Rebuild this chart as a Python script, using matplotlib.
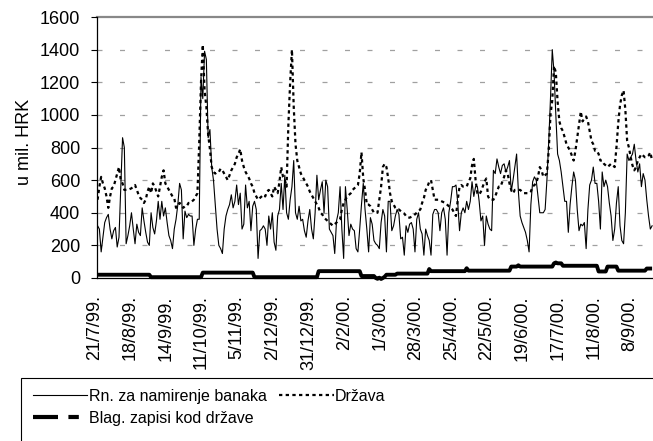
import matplotlib.pyplot as plt
from matplotlib.lines import Line2D
from matplotlib.patches import Rectangle
from matplotlib.transforms import ScaledTranslation

plt.rcParams['font.family'] = ['Liberation Sans', 'DejaVu Sans']

# daily values, u mil. HRK, 21/7/99. - 27/9/00.
rn_banaka = [
    320, 300, 160, 250, 340, 370, 390, 300, 240, 290,
    310, 190, 250, 560, 860, 800, 210, 260, 320, 400,
    300, 210, 330, 280, 260, 430, 350, 280, 220, 200,
    400, 310, 270, 350, 470, 360, 470, 380, 430, 340,
    260, 230, 180, 300, 360, 450, 580, 540, 240, 410,
    370, 390, 380, 380, 200, 300, 360, 360, 1230, 1100,
    1390, 1340, 860, 910, 680, 600, 450, 300, 200, 180,
    150, 300, 380, 420, 450, 510, 430, 470, 570, 450,
    520, 300, 330, 570, 430, 470, 290, 440, 470, 420,
    120, 290, 300, 320, 300, 200, 380, 300, 400, 220,
    170, 380, 420, 580, 420, 630, 400, 360, 480, 560,
    720, 400, 360, 440, 350, 360, 290, 250, 350, 420,
    300, 240, 400, 630, 480, 540, 590, 400, 600, 560,
    300, 280, 260, 150, 350, 400, 560, 300, 120, 560,
    420, 260, 330, 300, 290, 180, 160, 300, 450, 580,
    420, 300, 160, 370, 330, 230, 210, 200, 180, 340,
    420, 380, 160, 470, 470, 290, 320, 380, 420, 390,
    240, 250, 140, 320, 280, 330, 340, 300, 160, 360,
    400, 300, 270, 140, 300, 260, 230, 140, 390, 420,
    420, 400, 290, 400, 430, 360, 140, 400, 470, 560,
    560, 570, 460, 290, 400, 430, 400, 470, 420, 470,
    590, 500, 560, 560, 470, 350, 380, 200, 380, 330,
    300, 290, 660, 640, 730, 680, 640, 690, 700, 650,
    680, 720, 530, 600, 680, 760, 530, 380, 340, 310,
    280, 230, 160, 450, 590, 620, 600, 500, 400, 400,
    400, 420, 600, 830, 1100, 1400, 1260, 1000, 760, 720,
    650, 560, 470, 470, 280, 450, 560, 650, 600, 420,
    290, 330, 320, 340, 180, 420, 570, 600, 680, 580,
    580, 470, 300, 650, 560, 600, 560, 460, 380, 230,
    300, 460, 560, 320, 230, 210, 400, 760, 720, 740,
    760, 820, 720, 650, 700, 560, 640, 600, 480, 380,
    300, 320,
]

drzava = [
    480, 560, 620, 580, 550, 500, 430, 500, 550, 560,
    600, 640, 680, 600, 580, 540, 540, 540, 545, 550,
    560, 570, 540, 510, 490, 480, 460, 480, 530, 560,
    520, 580, 560, 530, 500, 560, 620, 660, 580, 560,
    540, 520, 500, 490, 430, 450, 460, 450, 430, 440,
    440, 460, 460, 470, 480, 500, 520, 830, 1200, 1430,
    1150, 1050, 880, 790, 680, 650, 640, 650, 650, 670,
    660, 640, 620, 600, 630, 660, 680, 700, 740, 760,
    790, 720, 680, 650, 630, 610, 580, 560, 520, 500,
    480, 490, 500, 510, 500, 530, 540, 520, 500, 560,
    540, 520, 590, 680, 620, 600, 560, 940, 1200, 1400,
    1050, 820, 720, 680, 640, 620, 600, 580, 560, 530,
    510, 490, 470, 450, 430, 400, 390, 370, 360, 350,
    340, 330, 320, 330, 340, 350, 360, 420, 460, 480,
    500, 510, 520, 540, 550, 560, 570, 640, 770, 610,
    540, 450, 450, 440, 420, 400, 400, 400, 480, 560,
    680, 700, 680, 610, 520, 470, 450, 430, 420, 420,
    410, 400, 395, 380, 370, 370, 375, 380, 390, 400,
    410, 420, 460, 490, 540, 560, 590, 600, 540, 480,
    480, 480, 475, 470, 465, 460, 450, 440, 430, 420,
    400, 380, 480, 560, 570, 560, 560, 560, 590, 610,
    690, 730, 600, 520, 510, 530, 560, 590, 610, 500,
    480, 480, 480, 500, 530, 560, 560, 590, 620, 660,
    640, 580, 540, 520, 540, 540, 540, 540, 530, 520,
    520, 520, 520, 530, 560, 570, 580, 620, 680, 660,
    620, 630, 640, 780, 1000, 1090, 1300, 1260, 1080, 960,
    920, 900, 860, 820, 800, 780, 750, 720, 780, 860,
    940, 1020, 960, 980, 990, 960, 900, 840, 820, 780,
    780, 760, 720, 720, 700, 690, 680, 690, 700, 690,
    680, 800, 950, 1060, 1120, 1150, 1030, 840, 800, 740,
    690, 660, 680, 720, 740, 760, 750, 740, 740, 750,
    770, 720,
]

blag_zapisi = [
    20, 20, 20, 20, 20, 20, 20, 20, 20, 20,
    20, 20, 20, 20, 20, 20, 20, 20, 20, 20,
    20, 20, 20, 20, 20, 20, 20, 20, 20, 20,
    5, 5, 5, 5, 5, 5, 5, 5, 5, 5,
    5, 5, 5, 5, 5, 5, 5, 5, 5, 5,
    5, 5, 5, 5, 5, 5, 5, 5, 5, 33,
    33, 33, 33, 33, 33, 33, 33, 33, 33, 33,
    33, 33, 33, 33, 33, 33, 33, 33, 33, 33,
    33, 33, 33, 33, 33, 33, 33, 33, 5, 5,
    5, 5, 5, 5, 5, 5, 5, 5, 5, 5,
    5, 5, 5, 5, 5, 5, 5, 5, 5, 5,
    5, 5, 5, 5, 5, 5, 5, 5, 5, 5,
    5, 5, 5, 5, 42, 42, 42, 42, 42, 42,
    42, 42, 42, 42, 42, 42, 42, 42, 42, 42,
    42, 42, 42, 42, 42, 42, 42, 42, 12, 12,
    12, 12, 12, 12, 12, 12, 0, -5, 2, -6,
    0, 8, 20, 20, 20, 20, 20, 20, 27, 27,
    27, 27, 27, 27, 27, 27, 27, 27, 27, 27,
    27, 27, 27, 27, 27, 27, 55, 42, 42, 42,
    42, 42, 42, 42, 42, 42, 42, 42, 42, 42,
    42, 42, 42, 42, 42, 42, 42, 60, 45, 45,
    45, 45, 45, 45, 45, 45, 45, 45, 45, 45,
    45, 45, 45, 45, 45, 45, 45, 45, 45, 45,
    45, 45, 70, 70, 70, 70, 78, 70, 70, 70,
    70, 70, 70, 70, 70, 70, 70, 70, 70, 70,
    70, 70, 70, 70, 70, 70, 90, 95, 90, 90,
    90, 75, 75, 75, 75, 75, 75, 75, 75, 75,
    75, 75, 75, 75, 75, 75, 75, 75, 75, 75,
    75, 40, 40, 40, 40, 40, 70, 70, 70, 70,
    70, 70, 45, 45, 45, 45, 45, 45, 45, 45,
    45, 45, 45, 45, 45, 45, 45, 45, 58, 58,
    58, 58,
]

date_labels = ['21/7/99.', '18/8/99.', '14/9/99.', '11/10/99.', '5/11/99.',
               '2/12/99.', '31/12/99.', '2/2/00.', '1/3/00.', '28/3/00.',
               '25/4/00.', '22/5/00.', '19/6/00.', '17/7/00.', '11/8/00.',
               '8/9/00.']
label_step = 20

n = len(rn_banaka)
x = list(range(n))

fig = plt.figure(figsize=(6.53, 4.41), dpi=100)
ax = fig.add_axes([96.7 / 653, 1 - 278 / 441, 1 - 96.7 / 653, (278 - 17) / 441])

# light dashed grid, top line solid
for v in range(200, 1600, 200):
    ax.axhline(v, color='#a0a0a0', lw=0.9, ls=(0, (4, 14)), zorder=0)
ax.axhline(1600, color='#888888', lw=1.6, zorder=0, clip_on=False)

ax.plot(x, rn_banaka, color='black', lw=0.8, zorder=2)
ax.plot(x, drzava, color='black', lw=1.6, ls=(0, (1.5, 1.5)), zorder=3)
ax.plot(x, blag_zapisi, color='black', lw=2.8, zorder=4, clip_on=False,
        solid_capstyle='butt')

ax.set_xlim(-0.5, n - 0.5)
ax.set_ylim(0, 1600)
ax.set_yticks(range(0, 1601, 200))
ax.tick_params(axis='y', labelsize=13, length=4.5, width=0.8, pad=7.5)
ax.set_xticks(range(0, label_step * len(date_labels), label_step))
ax.set_xticklabels(date_labels, rotation=90, fontsize=13)
ax.tick_params(axis='x', length=0, pad=12.5)
shift = ScaledTranslation(-3 / 100, 0, fig.dpi_scale_trans)
for lbl in ax.get_xticklabels():
    lbl.set_transform(lbl.get_transform() + shift)

for s in ['top', 'right']:
    ax.spines[s].set_visible(False)
ax.spines['left'].set_linewidth(0.9)
ax.spines['bottom'].set_linewidth(0.9)

ax.set_ylabel('u mil. HRK', fontsize=13)
ax.yaxis.set_label_coords(-0.115, 0.521)

# legend box runs off the page at the bottom/right
fig.patches.append(Rectangle((21 / 653, -0.2), 1.0, 0.2 + (1 - 378 / 441),
                             transform=fig.transFigure, fill=False,
                             edgecolor='black', lw=0.8))
handles = [Line2D([], [], color='black', lw=0.8),
           Line2D([], [], color='black', lw=3, ls=(0, (6, 2.5, 2.5, 2.5))),
           Line2D([], [], color='black', lw=1.6, ls=(0, (1.5, 1.5)))]
labels = ['Rn. za namirenje banaka', 'Blag. zapisi kod države', 'Država']
fig.legend(handles, labels, ncol=2, loc='upper left',
           bbox_to_anchor=(33 / 653, 1 - 389 / 441), frameon=False,
           fontsize=11.5, handlelength=3.4, handletextpad=0.08,
           columnspacing=0.8, labelspacing=0.42, borderpad=0,
           borderaxespad=0)

fig.savefig('out.png', dpi=100)
